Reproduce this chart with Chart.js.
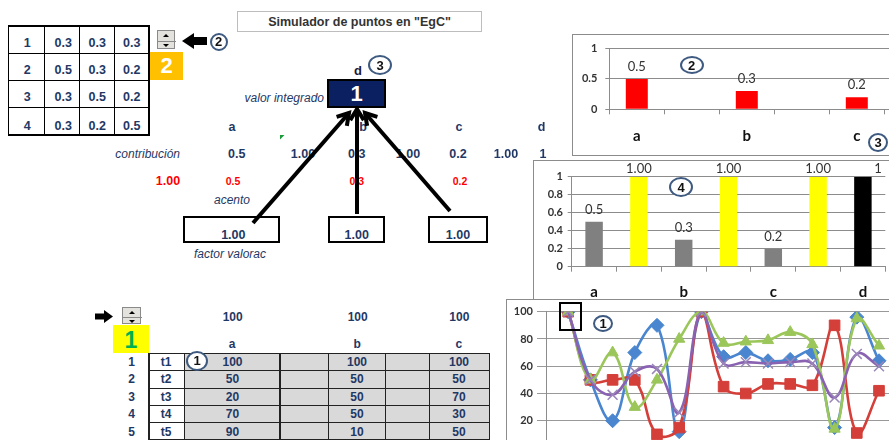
<!DOCTYPE html>
<html><head><meta charset="utf-8">
<script src="https://cdn.jsdelivr.net/npm/chart.js@4.4.1/dist/chart.umd.min.js"></script>
<style>
html,body{margin:0;padding:0;background:#fff;}
body{width:889px;height:440px;overflow:hidden;position:relative;font-family:"Liberation Sans",Arial,sans-serif;}
.t{position:absolute;white-space:nowrap;line-height:1;z-index:3;}
.nb{font-weight:bold;color:#1F3864;font-size:12px;}
.it{font-style:italic;color:#1F3864;font-size:12px;}
.rd{font-weight:bold;color:#FF0000;}
.bx{position:absolute;box-sizing:border-box;}
.cv{position:absolute;z-index:1;background:#fff;}
.frame{position:absolute;box-sizing:border-box;border:1px solid #8C8C8C;z-index:2;pointer-events:none;}
.circ{position:absolute;box-sizing:border-box;border:2px solid #3E5A80;border-radius:50%;background:#fff;font:bold 13px "Liberation Sans",Arial,sans-serif;color:#111;display:flex;align-items:center;justify-content:center;z-index:6;}
.spin{position:absolute;box-sizing:border-box;border:1px solid #8a8a8a;background:#E4E2DC;z-index:3;}
.spin div{position:absolute;left:50%;width:0;height:0;border-left:3px solid transparent;border-right:3px solid transparent;transform:translateX(-50%);}
</style></head><body>
<svg id="ov" width="889" height="440" style="position:absolute;left:0;top:0;z-index:5;pointer-events:none"></svg>
<script>
// ---------- data ----------
const weightRows = [[1,0.3,0.3,0.3],[2,0.5,0.3,0.2],[3,0.3,0.5,0.2],[4,0.3,0.2,0.5]];
const selectedWeightRow = 2;
const criteria = ['a','b','c','d'];
const contributionText = ['0.5','1.00','0.3','1.00','0.2','1.00','1'];
const accentText = ['1.00','0.5','0.3','0.2'];
const factorText = ['1.00','1.00','1.00'];
const integratedValue = 1;
const selectedTime = 1;
const maxPoints = [100,100,100];
const timeLabels = ['t1','t2','t3','t4','t5'];
const tableA = [100,50,20,70,90];
const tableB = [100,50,50,50,10];
const tableC = [100,50,70,30,50];

const bar2Labels = ['a','','b','','c','',''];
const bar2Values = [0.5,null,0.3,null,0.2,null,null];
const bar2Text = ['0.5','','0.3','','0.2','',''];

const bar4Labels = ['a','','b','','c','','d'];
const bar4Values = [0.5,1,0.3,1,0.2,1,1];
const bar4Text = ['0.5','1.00','0.3','1.00','0.2','1.00','1'];
const bar4Colors = ['#808080','#FFFF00','#808080','#FFFF00','#808080','#FFFF00','#000000'];

const lineLabels = ['','1','2','3','4','5','6','7','8','9','10','11','12','13','14','15',''];
const seriesA = [null,100,50,20,70,90,12,100,67,70,64,65,70,15,96,64,null];
const seriesB = [null,100,50,50,50,10,15,100,45,40,47,47,46,90,11,42,null];
const seriesC = [null,100,50,70,30,50,80,100,77,78,79,85,76,14,95,75,null];
const seriesD = [null,100,50,39,56,58,26,100,62,63,62,63,62,37,69,60,null];

// ---------- helpers ----------
function T(s,x,y,cls,al,extra){const d=document.createElement('div');d.className='t '+(cls||'');d.textContent=s;
 d.style.left=x+'px';d.style.top=y+'px';
 d.style.transform='translate('+(al==='r'?'-100%':al==='l'?'0':'-50%')+',-50%)';
 if(extra)Object.assign(d.style,extra);document.body.appendChild(d);return d;}
function B(x,y,w,h,st){const d=document.createElement('div');d.className='bx';Object.assign(d.style,{left:x+'px',top:y+'px',width:w+'px',height:h+'px'},st||{});document.body.appendChild(d);return d;}
function grid(xs,ys,col,w){
 xs.forEach(x=>B(x-w/2,ys[0]-w/2,w,ys[ys.length-1]-ys[0]+w,{background:col,zIndex:3}));
 ys.forEach(y=>B(xs[0]-w/2,y-w/2,xs[xs.length-1]-xs[0]+w,w,{background:col,zIndex:3}));}
function circ(s,cx,cy,w,h){const d=document.createElement('div');d.className='circ';d.textContent=s;
 Object.assign(d.style,{left:(cx-w/2)+'px',top:(cy-h/2)+'px',width:w+'px',height:h+'px'});document.body.appendChild(d);}
function spinner(x,y,w,h){const s=B(x,y,w,h);s.className='spin';
 const u=document.createElement('div');u.style.top=(h/4-1.5)+'px';u.style.borderBottom='3px solid #000';s.appendChild(u);
 const dv=document.createElement('div');dv.style.top=(h/2)+'px';dv.style.width=w+'px';dv.style.left='0';dv.style.transform='none';dv.style.border='none';dv.style.height='1px';dv.style.background='#8a8a8a';s.appendChild(dv);
 const dn=document.createElement('div');dn.style.top=(3*h/4-1)+'px';dn.style.borderTop='3px solid #000';s.appendChild(dn);}
const svg=document.getElementById('ov');
function svgEl(tag,attrs){const e=document.createElementNS('http://www.w3.org/2000/svg',tag);for(const k in attrs)e.setAttribute(k,attrs[k]);svg.appendChild(e);return e;}
function arrow(x1,y1,x2,y2){
 svgEl('line',{x1,y1,x2,y2,stroke:'#000','stroke-width':4});
 const a=Math.atan2(y2-y1,x2-x1),L=13,sp=0.55;
 const p=(ang)=>[x2-L*Math.cos(ang),y2-L*Math.sin(ang)];
 const [ax,ay]=p(a-sp),[bx,by]=p(a+sp);
 svgEl('polyline',{points:`${ax},${ay} ${x2},${y2} ${bx},${by}`,fill:'none',stroke:'#000','stroke-width':4,'stroke-linejoin':'miter'});}

// ---------- top-left weight table ----------
grid([8.3,44.3,79.3,114.3,149],[26,53.3,80.7,107.7,135],'#000',1.5);
const rowY=[43,70,96.7,125.5], colX=[27.3,63.3,97.3,131.7];
weightRows.forEach((r,i)=>r.forEach((v,j)=>T(String(v),colX[j],rowY[i],'nb','c',{fontSize:'12.5px'})));
spinner(157,30,18,19);
svgEl('polygon',{points:'182,41 194,33 194,37 207,37 207,45 194,45 194,49',fill:'#000'});
circ('2',218.5,41.5,18,18);
B(150,52,33,28,{background:'#FFC000',zIndex:3});
T(String(selectedWeightRow),166.5,66,'','c',{color:'#fff',fontWeight:'bold',fontSize:'22px'});

// ---------- title ----------
B(237,11,245,21,{border:'1px solid #BDBDBD',zIndex:3});
T('Simulador de puntos en "EgC"',359.5,22,'','c',{fontWeight:'bold',fontSize:'12.5px',color:'#333'});

// ---------- integrated value ----------
T('d',358,70,'nb','c',{fontSize:'13px',color:'#1a1a3a'});
circ('3',380,65,24,20);
B(327,79,59,29,{background:'#0B2060',border:'2px solid #000',zIndex:3});
T(String(integratedValue),356.5,93.5,'','c',{color:'#fff',fontWeight:'bold',fontSize:'22px'});
T('valor integrado',324,98,'it','r');

// criteria row
[[232,'a'],[363,'b'],[459,'c'],[541.7,'d']].forEach(([x,s])=>T(s,x,126.5,'nb','c',{fontSize:'12.5px'}));
T('contribución',180,153.5,'it','r');
[236.7,303,356.7,408,458,506,543].forEach((x,i)=>T(contributionText[i],x,153.5,'nb','c',{fontSize:'12.5px'}));
T(accentText[0],168,181,'rd','c',{fontSize:'12.5px'});
[233,356.7,460].forEach((x,i)=>T(accentText[i+1],x,181,'rd','c',{fontSize:'10.5px'}));
T('acento',232,199.5,'it','c');
[[183.3,97,233.3],[327.7,57.3,356.7],[428.3,60,458]].forEach(([x,w,tx],i)=>{
 B(x,216,w,27.3,{border:'2px solid #000',zIndex:3,background:'#fff'});
 T(factorText[i],tx,234.5,'nb','c',{fontSize:'12.5px'});});
T('factor valorac',230,254,'it','c');
svgEl('polygon',{points:'280,135 284.5,135 280,139.5',fill:'#1a9a3a'});
arrow(253,223,349,113);
arrow(357,214,357,109);
arrow(450,211,365,113);

// ---------- bottom table ----------
svgEl('polygon',{points:'95,313.5 104,313.5 104,310 113,316.5 104,323 104,319.5 95,319.5',fill:'#000'});
spinner(122,307,19,17);
B(113,325,36,28,{background:'#FFFF00',zIndex:3});
T(String(selectedTime),131,339.5,'','c',{color:'#00B050',fontWeight:'bold',fontSize:'23px'});
const colC=[232.7,357.7,459.3];
maxPoints.forEach((v,i)=>T(String(v),colC[i],317,'nb','c'));
['a','b','c'].forEach((s,i)=>T(s,colC[i]-0.5,343.5,'nb','c'));
B(184.3,353.3,305,87,{background:'#D9D9D9',zIndex:2});
grid([149,184.3,280,328.3,385.7,429.3,489.3],[353.3,370.7,388.3,405.7,422.7,440],'#222',1.5);
const tRowY=[362,379.3,396.8,414.2,431.5];
timeLabels.forEach((s,i)=>{T(String(i+1),131.7,tRowY[i],'nb','c');T(s,166,tRowY[i],'nb','c');
 T(String(tableA[i]),232.5,tRowY[i],'nb','c');T(String(tableB[i]),357,tRowY[i],'nb','c');T(String(tableC[i]),459,tRowY[i],'nb','c');});
circ('1',197,360.5,22,20);

// ---------- charts ----------
Chart.defaults.font.family='Lato, "Liberation Sans", sans-serif';
Chart.defaults.animation=false;
Chart.defaults.plugins.legend.display=false;
Chart.defaults.plugins.tooltip.enabled=false;
const valueLabels={id:'valueLabels',afterDatasetsDraw(chart,args,o){
 if(!o||!o.texts)return;const ctx=chart.ctx;const meta=chart.getDatasetMeta(0);
 ctx.save();ctx.font=o.font;ctx.fillStyle=o.color;ctx.textAlign='center';ctx.textBaseline='middle';
 meta.data.forEach((el,i)=>{const t=o.texts[i];if(!t)return;let y=el.y-o.gap;if(o.minY!=null)y=Math.max(y,o.minY);
  ctx.fillText(t,el.x+((o.dx&&o.dx[i])||0),y);});ctx.restore();}};
function mkCanvas(x,y,w,h,fh){const d=document.createElement('div');d.className='cv';
 Object.assign(d.style,{left:x+'px',top:y+'px',width:w+'px',height:h+'px'});
 const c=document.createElement('canvas');c.width=w;c.height=h;c.style.width=w+'px';c.style.height=h+'px';d.appendChild(c);document.body.appendChild(d);
 const f=document.createElement('div');f.className='frame';Object.assign(f.style,{left:x+'px',top:y+'px',width:w+'px',height:(fh||h)+'px'});document.body.appendChild(f);
 return c;}
const fmt=v=>String(Math.round(v*100)/100);
const axisCol='#8C8C8C';

// chart 2 (red bars)
new Chart(mkCanvas(572,34,440,122),{type:'bar',plugins:[valueLabels],
 data:{labels:bar2Labels,datasets:[{data:bar2Values,backgroundColor:'#FF0000',barPercentage:0.4,categoryPercentage:1}]},
 options:{responsive:false,layout:{padding:{top:11.7,left:0,right:17.7,bottom:0}},
  plugins:{valueLabels:{texts:bar2Text,font:'13px Lato',color:'#333',gap:12.5}},
  scales:{x:{offset:true,grid:{offset:true,drawOnChartArea:false,tickLength:5,color:axisCol},border:{color:axisCol},
    ticks:{font:{size:15,weight:'bold'},color:'#111',padding:12.5,autoSkip:false,maxRotation:0},afterFit:s=>{s.height=46.7;}},
   y:{min:0,max:1,ticks:{stepSize:0.5,callback:fmt,font:{size:11,weight:'bold'},color:'#333',padding:8},grid:{color:axisCol,tickLength:4},border:{color:axisCol},afterFit:s=>{s.width=37.3;}}}}});
circ('2',691.5,65,24,18);
circ('3',878,142.5,20,19);

// chart 4 (grey / yellow / black bars)
new Chart(mkCanvas(533,160,400,139,140),{type:'bar',plugins:[valueLabels],
 data:{labels:bar4Labels,datasets:[{data:bar4Values,backgroundColor:bar4Colors,barPercentage:0.39,categoryPercentage:1}]},
 options:{responsive:false,layout:{padding:{top:16.7,left:0,right:47.7,bottom:0}},
  plugins:{valueLabels:{texts:bar4Text,font:'13px Lato',color:'#333',gap:11.5,minY:9,dx:[0,0,0,0,0,0,15]}},
  scales:{x:{offset:true,grid:{offset:true,drawOnChartArea:false,tickLength:5,color:axisCol},border:{color:axisCol},
    ticks:{font:{size:15,weight:'bold'},color:'#111',padding:11.1,autoSkip:false,maxRotation:0},afterFit:s=>{s.height=32.3;}},
   y:{min:0,max:1,ticks:{stepSize:0.2,callback:fmt,font:{size:11,weight:'bold'},color:'#333',padding:4.7},grid:{color:axisCol,tickLength:4},border:{color:axisCol},afterFit:s=>{s.width=38.7;}}}}});
circ('4',681,187,24,20);

// chart 1 (lines)
const blue='#4A86CF',red='#D43F3A',green='#9BC65A',purple='#8A62B2';
function ser(d,col,style,r,ord,extra){return Object.assign({data:d,borderColor:col,backgroundColor:col,pointStyle:style,pointRadius:r,pointBorderColor:col,pointBackgroundColor:col,pointBorderWidth:1,borderWidth:2.6,tension:0.4,order:ord},extra||{});}
new Chart(mkCanvas(506,299,420,190),{type:'line',
 data:{labels:lineLabels,datasets:[
  ser(seriesA,blue,'rectRot',7,4),
  ser(seriesB,red,'rect',7.5,3),
  ser(seriesC,green,'triangle',6.5,2),
  ser(seriesD,purple,'crossRot',7,1,{pointBorderWidth:1.5,pointBorderColor:'#9a86b8'})]},
 options:{responsive:false,layout:{padding:{top:12.7,left:0,right:24.8,bottom:0}},
  scales:{x:{offset:false,grid:{display:false},border:{color:axisCol},ticks:{display:false},afterFit:s=>{s.height=41;}},
   y:{min:0,max:100,ticks:{stepSize:20,font:{size:11,weight:'bold'},color:'#333',padding:4},grid:{color:'#999',tickLength:9},border:{color:axisCol},afterFit:s=>{s.width=40;}}}}});
circ('1',603,323.5,20,17);
B(559,302,23,29,{border:'2px solid #000',zIndex:6});
</script></body></html>
